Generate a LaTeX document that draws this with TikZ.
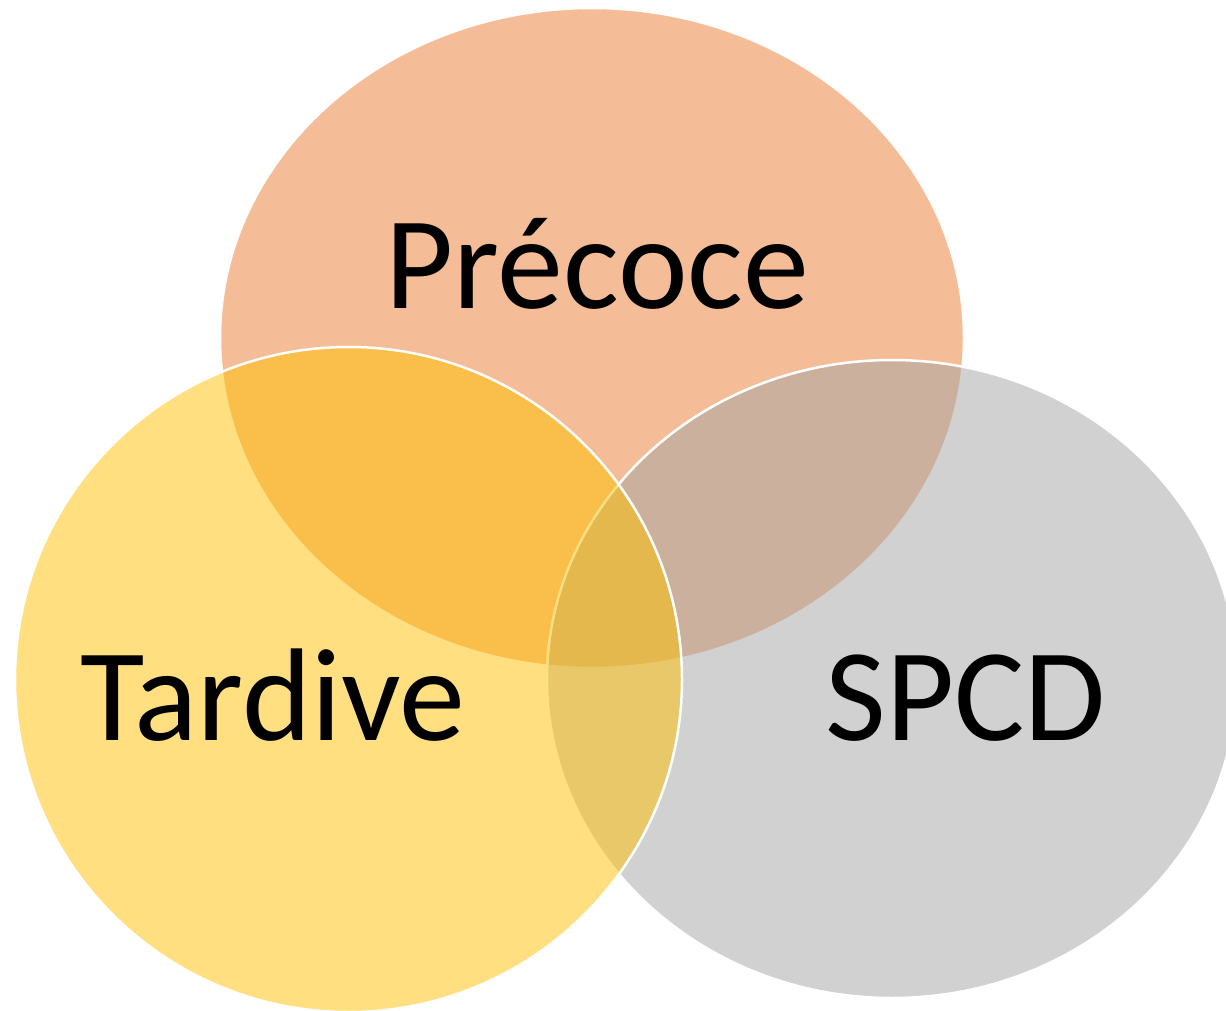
\documentclass[tikz,border=0pt]{standalone}
\usepackage{fontspec}
\setmainfont{Carlito}
\definecolor{vorange}{HTML}{ED7D31}
\definecolor{vgray}{HTML}{A5A5A5}
\definecolor{vgold}{HTML}{FFC000}
\tikzset{
  vset/.style={draw=white, line width=2.5pt, fill opacity=0.5},
  vlabel/.style={font=\fontsize{132}{150}\selectfont, text=black, anchor=base, inner sep=0pt}
}
\begin{document}
\begin{tikzpicture}[x=1pt,y=-1pt]
\useasboundingbox (0,0) rectangle (1226,1011);
\clip (0,0) rectangle (1226,1011);
\fill[white] (0,0) rectangle (1226,1011);
\draw[vset, fill=vorange] (592,338) ellipse [x radius=372, y radius=330];
\draw[vset, fill=vgray] (892,679) ellipse [x radius=345, y radius=319];
\draw[vset, fill=vgold] (348.5,679.5) ellipse [x radius=333.5, y radius=332.5];
\node[vlabel] (precoce) at (597,308) {Précoce};
\node[vlabel] (tardive) at (273,740) {Tardive};
\node[vlabel] (spcd) at (966,740) {SPCD};
\end{tikzpicture}
\end{document}
